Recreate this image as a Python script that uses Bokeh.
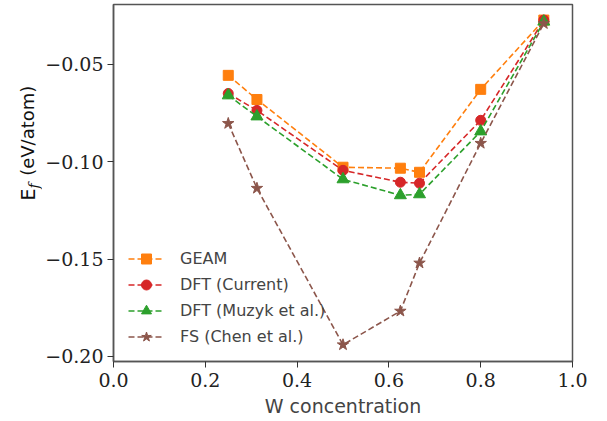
from bokeh.plotting import figure
from bokeh.layouts import row
from bokeh.models import Legend, LegendItem, Label, FixedTicker, Range1d
from bokeh.embed import file_html
from bokeh.resources import INLINE
import math

x_conc = [0.25, 0.3125, 0.5, 0.625, 0.6667, 0.8, 0.9375]
geam = [-0.0556, -0.0680, -0.1028, -0.1033, -0.1054, -0.0628, -0.0272]
dft_current = [-0.0649, -0.0736, -0.1044, -0.1105, -0.1110, -0.0787, -0.0272]
dft_muzyk = [-0.0659, -0.0767, -0.1090, -0.1172, -0.1167, -0.0844, -0.0280]
fs_chen = [-0.0803, -0.1136, -0.1940, -0.1767, -0.1520, -0.0905, -0.0290]

x_ticks = [0.0, 0.2, 0.4, 0.6, 0.8, 1.0]
y_ticks = [-0.20, -0.15, -0.10, -0.05]

series = [
    ("GEAM", geam, "#ff7f0e", "square", 10),
    ("DFT (Current)", dft_current, "#d62728", "circle", 10),
    ("DFT (Muzyk et al.)", dft_muzyk, "#2ca02c", "triangle", 12),
    ("FS (Chen et al.)", fs_chen, "#8c564b", "star", 12),
]

LW = 42  # width of the strip holding the y-axis title

p = figure(width=607 - LW, height=421, output_backend="svg", toolbar_location=None,
           x_range=Range1d(0.0, 1.0), y_range=Range1d(-0.2026, -0.0192),
           min_border_left=113 - LW, min_border_right=35, min_border_top=4,
           min_border_bottom=60)
p.background_fill_color = "white"
p.border_fill_color = "white"
p.grid.visible = False
p.outline_line_color = "#555555"
p.outline_line_width = 1.5

items = []
for name, ys, color, marker, size in series:
    r1 = p.line(x_conc, ys, line_color=color, line_width=1.6, line_dash="6 3")
    r2 = p.scatter(x_conc, ys, marker=marker, size=size, fill_color=color,
                   line_color=color)
    items.append(LegendItem(label=name, renderers=[r1, r2]))

legend = Legend(items=items, location=(9, 6))
legend.background_fill_alpha = 0
legend.border_line_alpha = 0
legend.label_text_font = "DejaVu Sans"
legend.label_text_font_size = "16px"
legend.glyph_width = 36
legend.glyph_height = 25
legend.label_height = 25
legend.spacing = 1
legend.label_standoff = 16
legend.padding = 6
p.add_layout(legend, "center")

for ax in (p.xaxis, p.yaxis):
    ax.axis_line_color = "#555555"
    ax.axis_line_width = 1.5
    ax.major_tick_line_color = "#333333"
    ax.major_tick_out = 6
    ax.major_tick_in = 0
    ax.minor_tick_line_color = None
    ax.major_label_text_font = "DejaVu Serif"
    ax.major_label_text_font_size = "19px"
    ax.major_label_text_color = "#222222"

p.xaxis.ticker = FixedTicker(ticks=x_ticks)
p.xaxis.major_label_overrides = {t: f"{t:.1f}" for t in x_ticks}
p.yaxis.ticker = FixedTicker(ticks=y_ticks)
p.yaxis.major_label_overrides = {t: "\u2212" + f"{abs(t):.2f}" for t in y_ticks}
p.xaxis.major_label_standoff = 5
p.yaxis.major_label_standoff = 4

p.xaxis.axis_label = "W concentration"
p.xaxis.axis_label_text_font = "DejaVu Sans"
p.xaxis.axis_label_text_font_style = "normal"
p.xaxis.axis_label_text_font_size = "19px"
p.xaxis.axis_label_standoff = 5

# strip figure for the y-axis title: E with subscript f
H = 421
t = figure(width=LW, height=H, output_backend="svg", toolbar_location=None,
           x_range=Range1d(0, LW), y_range=Range1d(0, H),
           x_axis_type=None, y_axis_type=None, min_border=0)
t.outline_line_color = None
t.grid.visible = False
t.background_fill_color = "white"
t.border_fill_color = "white"
common = dict(angle=math.pi / 2, text_align="left", text_baseline="middle",
              text_color="#111111")
t.add_layout(Label(x=27, y=H - 231, text="E", text_font="DejaVu Sans",
                   text_font_size="19px", **common))
t.add_layout(Label(x=33, y=H - 217, text="f", text_font="DejaVu Serif",
                   text_font_style="italic", text_font_size="14px", **common))
t.add_layout(Label(x=27, y=H - 202, text="(eV/atom)", text_font="DejaVu Sans",
                   text_font_size="18px", **common))

layout = row(t, p, spacing=0)
open("out.html", "w").write(file_html(layout, INLINE))
